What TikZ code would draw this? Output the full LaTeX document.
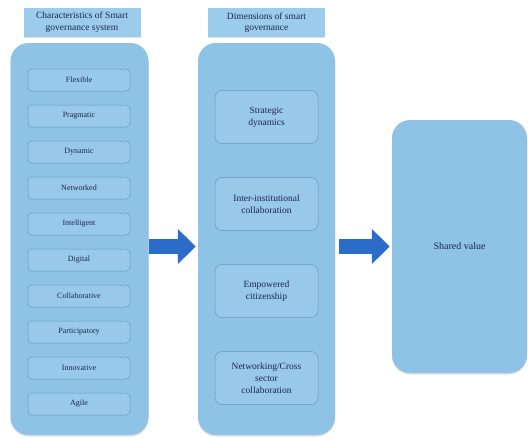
\documentclass[tikz,border=0pt]{standalone}
\usepackage{fontspec}
\setmainfont{Liberation Serif}
\usetikzlibrary{shadows,arrows.meta}

\definecolor{panelblue}{RGB}{142,195,230}
\definecolor{itemblue}{RGB}{152,201,233}
\definecolor{itemline}{RGB}{104,150,190}
\definecolor{headblue}{RGB}{156,204,235}
\definecolor{arrowblue}{RGB}{43,108,200}
\definecolor{textnavy}{RGB}{28,38,78}

\tikzset{
	panel/.style={fill=panelblue, draw=none, rounded corners=18pt, inner sep=0pt,
		drop shadow={opacity=0.25, shadow xshift=0pt, shadow yshift=-1.5pt}},
	headbox/.style={fill=headblue, draw=none, align=center, text=textnavy,
		minimum width=117pt, minimum height=29pt, inner sep=1pt,
		font=\fontsize{9.5}{11.5}\selectfont,
		drop shadow={opacity=0.25, shadow xshift=0pt, shadow yshift=-1pt}},
	itembox/.style={fill=itemblue, draw=itemline, line width=0.5pt, rounded corners=4pt,
		minimum width=102pt, minimum height=22pt, text=textnavy, inner sep=1pt,
		font=\fontsize{8}{9}\selectfont},
	dimbox/.style={itembox, minimum width=103pt, minimum height=53pt, rounded corners=7pt,
		align=center, font=\fontsize{9.5}{12}\selectfont},
	bigarrow/.style={draw=arrowblue, line width=15pt,
		-{Triangle[width=34pt,length=18pt]}, shorten >=2pt}
}

\begin{document}
\begin{tikzpicture}[x=1pt, y=-1pt]
	\useasboundingbox (0,0) rectangle (528,439);

	% headers
	\node (charhead) [headbox] at (82,22) {Characteristics of Smart\\governance system};
	\node (dimhead) [headbox] at (266.5,22.5) {Dimensions of smart\\governance};

	% panels
	\node (charpanel) [panel, minimum width=138pt, minimum height=392pt] at (79.5,239) {};
	\node (dimpanel) [panel, minimum width=137pt, minimum height=392pt] at (266.5,239) {};
	\node (shared) [panel, minimum width=135pt, minimum height=253pt, text=textnavy,
		font=\fontsize{10}{12}\selectfont] at (459.5,246.5) {Shared value};

	% characteristics
	\foreach \label [count=\i] in {Flexible, Pragmatic, Dynamic, Networked, Intelligent,
		Digital, Collaborative, Participatory, Innovative, Agile}
		\node (char\i) [itembox] at (79, 44+36*\i) {\label};

	% dimensions
	\node (strategic) [dimbox] at (266.5,117) {Strategic\\dynamics};
	\node (interinst) [dimbox] at (266.5,204) {Inter-institutional\\collaboration};
	\node (empowered) [dimbox] at (266.5,291) {Empowered\\citizenship};
	\node (networking) [dimbox] at (266.5,378) {Networking/Cross\\sector\\collaboration};

	% arrows
	\draw [bigarrow] (charpanel.east |- shared.west) -- (dimpanel.west |- shared.west);
	\draw [bigarrow] ([xshift=4pt]dimpanel.east |- shared.west) -- (shared.west);
\end{tikzpicture}
\end{document}
